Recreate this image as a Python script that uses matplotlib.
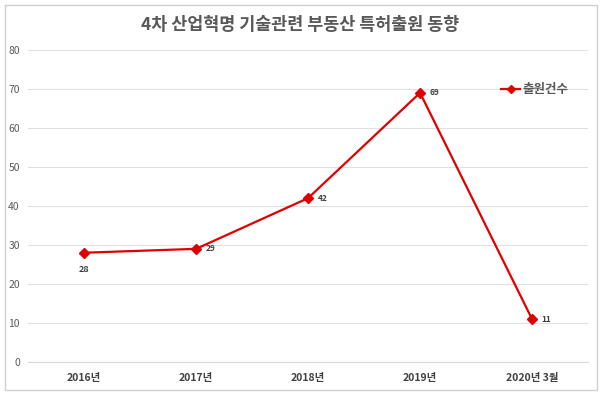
import matplotlib.pyplot as plt
from matplotlib.patches import Rectangle

plt.rcParams['font.family'] = ['Noto Sans CJK KR', 'DejaVu Sans']

years = ['2016년', '2017년', '2018년', '2019년', '2020년 3월']
counts = [28, 29, 42, 69, 11]
series_name = '출원건수'
title = '4차 산업혁명 기술관련 부동산 특허출원 동향'

fig = plt.figure(figsize=(6, 3.93), dpi=100)
ax = fig.add_axes([0.047, 0.079, 0.933, 0.794])

x = list(range(len(years)))
ax.plot(x, counts, color='#e00000', lw=1.6, marker='D', ms=5.5,
        label=series_name, zorder=3)

for i, v in enumerate(counts):
    if i == 0:
        ax.annotate(str(v), (i, v), xytext=(0, -9), textcoords='offset points',
                    ha='center', va='top', fontsize=6.5, fontweight='bold',
                    style='italic', color='#404040')
    else:
        ax.annotate(str(v), (i, v), xytext=(7, 0), textcoords='offset points',
                    ha='left', va='center', fontsize=6, fontweight='bold',
                    color='#404040')

ax.set_xlim(-0.5, len(years) - 0.5)
ax.set_ylim(0, 80)
ax.set_yticks(range(0, 81, 10))
ax.set_xticks(x)
ax.set_xticklabels(years, fontsize=7.5, fontweight='bold', color='#404040')
ax.tick_params(axis='y', labelsize=7.5, labelcolor='#595959', length=0, pad=6)
ax.tick_params(axis='x', length=0, pad=8)
ax.grid(axis='y', color='#e0e0e0', lw=0.8)
ax.set_axisbelow(True)
for s in ['top', 'right', 'left']:
    ax.spines[s].set_visible(False)
ax.spines['bottom'].set_color('#d9d9d9')

fig.text(0.5, 0.937, title, ha='center', va='center', fontsize=12.5,
         fontweight='bold', color='#595959')

leg = ax.legend(loc='upper left', bbox_to_anchor=(0.825, 0.93), frameon=False,
                prop={'size': 9, 'weight': 'bold'}, handlelength=1.5,
                handletextpad=0.2, markerscale=0.7)
for t in leg.get_texts():
    t.set_color('#595959')

fig.patches.append(Rectangle((0.008, 0.008), 0.987, 0.98, transform=fig.transFigure,
                             fill=False, edgecolor='#d0d0d0', lw=1))

fig.savefig('out.png', dpi=100)
